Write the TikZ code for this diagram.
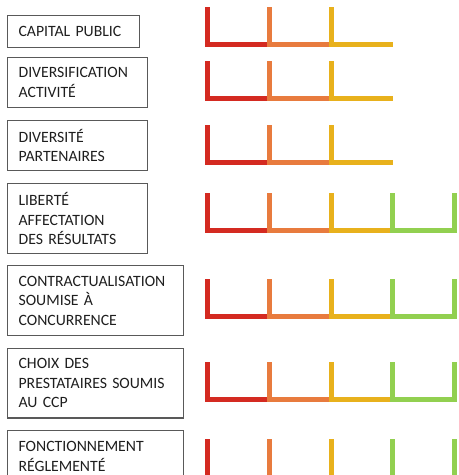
\documentclass[tikz,border=0pt]{standalone}
\usepackage{fontspec}
\setmainfont{Carlito}
\definecolor{barred}{RGB}{212,42,33}
\definecolor{barorange}{RGB}{232,123,62}
\definecolor{baryellow}{RGB}{232,177,28}
\definecolor{bargreen}{RGB}{146,208,80}
\definecolor{boxgray}{RGB}{89,89,89}
\definecolor{labeltext}{RGB}{30,30,30}
\begin{document}
\begin{tikzpicture}[x=0.75pt,y=-0.75pt,
  labelbox/.style={draw=boxgray, line width=0.9pt, anchor=north west,
    align=left, inner xsep=8.25pt, inner ysep=0pt, text=labeltext,
    font=\fontsize{11.8}{14.6}\selectfont},
  bar/.style={line width=3.75pt, line cap=butt, line join=miter}]
\path[use as bounding box] (0,0) rectangle (459,475);
\clip (0,0) rectangle (459,475);

% criteria boxes
\node[labelbox, text width=82.5pt, minimum height=24pt] (capital) at (7,15) {CAPITAL PUBLIC};
\node[labelbox, text width=88.5pt, minimum height=37.5pt] (diversification) at (7,57) {DIVERSIFICATION\\ACTIVITÉ};
\node[labelbox, text width=88.5pt, minimum height=37.5pt] (partenaires) at (7,120) {DIVERSITÉ\\PARTENAIRES};
\node[labelbox, text width=88.5pt, minimum height=52.5pt] (liberte) at (7,183) {LIBERTÉ\\AFFECTATION\\DES RÉSULTATS};
\node[labelbox, text width=115.5pt, minimum height=52.5pt] (contrat) at (7,265) {CONTRACTUALISATION\\SOUMISE À\\CONCURRENCE};
\node[labelbox, text width=115.5pt, minimum height=52pt] (choix) at (7,348) {CHOIX DES\\PRESTATAIRES SOUMIS\\AU CCP};
\node[labelbox, text width=115.5pt, minimum height=39pt] (fonctionnement) at (7,430) {FONCTIONNEMENT\\RÉGLEMENTÉ};

% one step of a scale: left upright plus its floor
\newcommand\scalestep[4]{%
  \draw[bar,#1] (#2,#3) -- (#2,#4-2.5) -- (#2+61.75,#4-2.5);}
% closing green step with its right upright
\newcommand\scaleend[2]{%
  \draw[bar,bargreen] (392.75,#1) -- (392.75,#2-2.5) -- (454.5,#2-2.5) -- (454.5,#1);}

% three-step scales
\foreach \top/\bot in {7/47, 61/101, 125/165} {
  \scalestep{barred}{207.5}{\top}{\bot}
  \scalestep{barorange}{269.25}{\top}{\bot}
  \scalestep{baryellow}{331}{\top}{\bot}
}
% four-step scales
\foreach \top/\bot in {193/233, 279/319, 362/402} {
  \scalestep{barred}{207.5}{\top}{\bot}
  \scalestep{barorange}{269.25}{\top}{\bot}
  \scalestep{baryellow}{331}{\top}{\bot}
  \scaleend{\top}{\bot}
}
% uprights only
\foreach \x/\c in {207.5/barred, 269.25/barorange, 331/baryellow, 392.75/bargreen, 454.5/bargreen}
  \draw[bar,\c] (\x,439) -- (\x,476);
\end{tikzpicture}
\end{document}
